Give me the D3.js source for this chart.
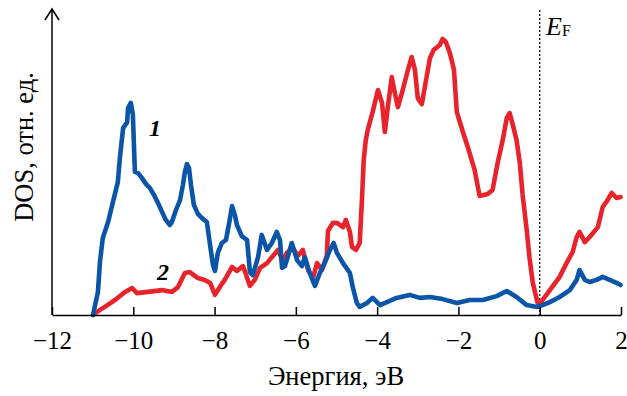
<!DOCTYPE html>
<html>
<head>
<meta charset="utf-8">
<script src="https://cdn.jsdelivr.net/npm/d3@7"></script>
<style>
  html, body { margin: 0; padding: 0; background: #fff; }
  svg { display: block; font-family: "Liberation Serif", "Times New Roman", serif; }
</style>
</head>
<body>
<svg id="chart" width="627" height="396"></svg>
<script>
// Energy (eV) for curve 1 (blue)
const energy1 = [-10.99,-10.94,-10.87,-10.82,-10.75,-10.62,-10.50,-10.38,-10.33,-10.25,-10.15,-10.13,-10.06,-10.01,-9.98,-9.96,-9.88,-9.79,-9.69,-9.59,-9.49,-9.39,-9.29,-9.20,-9.10,-9.05,-8.95,-8.85,-8.78,-8.73,-8.68,-8.63,-8.58,-8.51,-8.41,-8.31,-8.19,-8.11,-8.04,-7.99,-7.92,-7.82,-7.72,-7.65,-7.57,-7.50,-7.45,-7.33,-7.20,-7.13,-7.06,-6.93,-6.84,-6.71,-6.59,-6.47,-6.39,-6.34,-6.27,-6.20,-6.10,-5.97,-5.85,-5.78,-5.66,-5.53,-5.41,-5.29,-5.16,-5.07,-4.99,-4.84,-4.67,-4.60,-4.50,-4.43,-4.25,-4.11,-3.93,-3.76,-3.52,-3.20,-2.95,-2.70,-2.39,-2.04,-1.72,-1.40,-1.06,-0.81,-0.57,-0.32,-0.07,0.07,0.25,0.49,0.74,0.91,0.98,1.11,1.23,1.40,1.55,1.72,1.89,1.99];
// DOS (arb. units) for curve 1
const dos1 = [0,3.3,7.7,17.7,25.7,31.0,37.7,44.3,52.3,62.3,64.3,69.0,70.7,66.7,55.0,47.7,47.3,45.7,43.7,42.3,40.0,37.3,34.3,31.7,30.0,31.0,35.0,38.3,43.3,47.7,50.3,49.0,43.3,36.7,33.7,32.3,31.0,23.3,16.7,14.7,20.7,24.0,25.0,30.0,36.3,33.3,30.0,26.3,25.0,14.3,13.3,19.3,26.7,21.7,24.0,27.7,25.0,15.7,16.3,19.3,24.0,18.3,16.3,19.3,14.0,9.7,14.0,17.3,21.7,24.0,20.7,17.3,14.0,9.3,4.0,2.7,4.0,5.7,3.3,4.3,5.7,6.7,5.7,6.0,5.3,4.0,5.0,5.0,6.3,8.0,6.0,3.3,2.7,3.3,4.3,6.0,8.3,11.7,15.0,11.7,11.0,11.7,12.7,11.7,10.7,10.0];

// Energy (eV) for curve 2 (red)
const energy2 = [-10.99,-10.82,-10.70,-10.45,-10.20,-10.03,-9.91,-9.64,-9.29,-9.05,-8.90,-8.73,-8.61,-8.41,-8.24,-8.11,-7.99,-7.84,-7.75,-7.57,-7.45,-7.30,-7.13,-7.01,-6.88,-6.71,-6.59,-6.44,-6.32,-6.22,-6.07,-5.95,-5.83,-5.70,-5.58,-5.48,-5.36,-5.24,-5.21,-5.09,-4.99,-4.84,-4.77,-4.67,-4.62,-4.52,-4.43,-4.38,-4.33,-4.28,-4.23,-4.11,-3.98,-3.88,-3.81,-3.74,-3.64,-3.57,-3.49,-3.37,-3.25,-3.15,-3.07,-3.00,-2.90,-2.83,-2.70,-2.61,-2.46,-2.39,-2.31,-2.21,-2.11,-2.04,-1.89,-1.77,-1.60,-1.48,-1.28,-1.16,-1.03,-0.91,-0.81,-0.74,-0.66,-0.57,-0.49,-0.42,-0.32,-0.25,-0.17,-0.07,-0.02,0.07,0.25,0.49,0.66,0.81,0.91,0.98,1.11,1.23,1.43,1.55,1.67,1.77,1.89,1.99];
// DOS (arb. units) for curve 2
const dos2 = [0,1.7,2.7,5.0,7.7,9.0,7.3,7.7,8.3,7.7,9.3,14.0,14.3,12.3,11.7,10.7,6.7,10.0,11.7,16.0,14.7,16.3,9.7,11.7,15.7,17.3,19.3,21.7,18.0,20.7,22.3,19.7,21.7,15.0,12.3,17.3,15.0,19.7,28.0,30.7,30.7,29.3,31.7,27.7,22.7,21.7,24.0,36.7,51.7,58.3,61.7,67.7,75.0,70.7,61.0,69.0,79.3,74.3,69.3,75.0,81.3,86.0,81.7,72.3,70.3,75.7,85.7,88.3,90.0,92.0,91.0,87.3,81.7,67.7,61.0,56.0,48.3,39.7,40.3,41.7,51.0,58.3,65.7,67.3,63.3,58.3,50.7,40.0,28.3,19.0,10.7,5.0,2.7,5.0,8.3,12.7,17.3,21.0,26.0,27.7,24.3,26.0,29.3,36.0,38.3,40.7,39.0,39.3];

const xTicks = [-12, -10, -8, -6, -4, -2, 0, 2];
const xTickLabels = ["\u221212", "\u221210", "\u22128", "\u22126", "\u22124", "\u22122", "0", "2"];
const xTitle = "Энергия, эВ";
const yTitle = "DOS, отн. ед.";
const curveLabels = ["1", "2"];

const svg = d3.select("#chart");
const x = d3.scaleLinear().domain([-12, 2]).range([52, 621]);
const y = d3.scaleLinear().domain([0, 100]).range([315, 15]);

// Fermi level dotted line
svg.append("line")
  .attr("x1", x(0)).attr("x2", x(0))
  .attr("y1", 10).attr("y2", y(0))
  .attr("stroke", "#222").attr("stroke-width", 1.4)
  .attr("stroke-dasharray", "2,2");

// Curves
const line = d3.line().x(d => x(d[0])).y(d => y(d[1]));
const series = [
  {e: energy2, v: dos2, color: "#e8232b"},
  {e: energy1, v: dos1, color: "#0a55a8"}
];
series.forEach(s => {
  svg.append("path")
    .datum(s.e.map((e, i) => [e, s.v[i]]))
    .attr("d", line)
    .attr("fill", "none")
    .attr("stroke", s.color)
    .attr("stroke-width", 4.6)
    .attr("stroke-linejoin", "round")
    .attr("stroke-linecap", "round");
});

// X axis
const xAxis = d3.axisBottom(x)
  .tickValues(xTicks)
  .tickFormat((d, i) => xTickLabels[i])
  .tickSizeInner(-8)
  .tickSizeOuter(0)
  .tickPadding(16);
const gx = svg.append("g").attr("transform", `translate(0,${y(0)})`).call(xAxis);
gx.select(".domain").attr("stroke", "#000").attr("stroke-width", 1.5);
gx.selectAll(".tick line").attr("stroke", "#000").attr("stroke-width", 1.5);
gx.selectAll(".tick text")
  .attr("font-family", "Liberation Serif, Times New Roman, serif")
  .attr("font-size", 25).attr("fill", "#000");

// Y axis line with arrow
svg.append("line")
  .attr("x1", x(-12)).attr("x2", x(-12))
  .attr("y1", y(0)).attr("y2", 9)
  .attr("stroke", "#000").attr("stroke-width", 1.5);
svg.append("path")
  .attr("d", `M${x(-12) - 7},${20} L${x(-12)},${9} L${x(-12) + 7},${20}`)
  .attr("fill", "none").attr("stroke", "#000").attr("stroke-width", 1.5);

// Titles
svg.append("text")
  .attr("x", 336).attr("y", 385)
  .attr("text-anchor", "middle")
  .attr("font-size", 26.5)
  .text(xTitle);
svg.append("text")
  .attr("transform", "translate(33,147) rotate(-90)")
  .attr("text-anchor", "middle")
  .attr("font-size", 26.5)
  .text(yTitle);

// E_F label
const ef = svg.append("text").attr("x", 546).attr("y", 35).attr("font-size", 26);
ef.append("tspan").attr("font-style", "italic").text("E");
ef.append("tspan").attr("font-size", 16).attr("dy", 1).text("F");

// Curve labels
svg.append("text").attr("x", 155).attr("y", 136)
  .attr("text-anchor", "middle").attr("font-size", 24)
  .attr("font-style", "italic").attr("font-weight", "bold").text(curveLabels[0]);
svg.append("text").attr("x", 163).attr("y", 280)
  .attr("text-anchor", "middle").attr("font-size", 24)
  .attr("font-style", "italic").attr("font-weight", "bold").text(curveLabels[1]);
</script>
</body>
</html>
